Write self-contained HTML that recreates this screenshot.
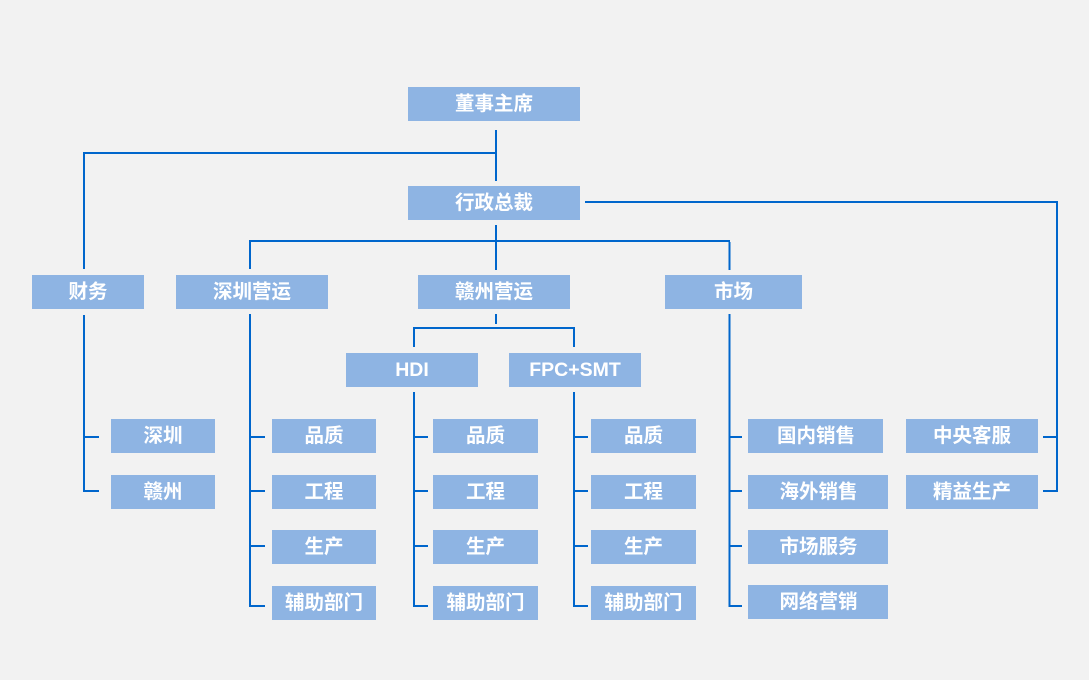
<!DOCTYPE html>
<html>
<head>
<meta charset="utf-8">
<style>
  html,body{margin:0;padding:0;background:#f2f2f2;}
  svg{display:block;}
  text{font-family:"Liberation Sans","Noto Sans CJK SC","WenQuanYi Zen Hei",sans-serif;font-weight:bold;font-size:19.5px;fill:#ffffff;text-anchor:middle;dominant-baseline:central;}
</style>
</head>
<body>
<svg width="1089" height="680" viewBox="0 0 1089 680" xmlns="http://www.w3.org/2000/svg">
  <rect x="0" y="0" width="1089" height="680" fill="#f2f2f2"/>
  <g stroke="#0066cc" stroke-width="2" fill="none">
    <!-- top -->
    <path d="M496,130 V181"/>
    <path d="M84,153 H496"/>
    <path d="M84,152 V269"/>
    <path d="M496,225 V270"/>
    <path d="M250,241 H730"/>
    <path d="M250,240 V269"/>
    <path d="M729.5,242 V270"/>
    <path d="M585,202 H1057"/>
    <path d="M1057,201 V492"/>
    <path d="M1043,437 H1057"/>
    <path d="M1043,491 H1057"/>
    <!-- 财务 -->
    <path d="M84,315 V492"/>
    <path d="M83,437 H99"/>
    <path d="M83,491 H99"/>
    <!-- 深圳营运 -->
    <path d="M250,314 V607"/>
    <path d="M249,437 H265"/>
    <path d="M249,491 H265"/>
    <path d="M249,546 H265"/>
    <path d="M249,606 H265"/>
    <!-- 赣州营运 -->
    <path d="M496,314 V324"/>
    <path d="M414,328 H574"/>
    <path d="M414,327 V347"/>
    <path d="M574,327 V347"/>
    <!-- HDI -->
    <path d="M414,392 V607"/>
    <path d="M413,437 H428"/>
    <path d="M413,491 H428"/>
    <path d="M413,546 H428"/>
    <path d="M413,606 H428"/>
    <!-- FPC -->
    <path d="M574,392 V607"/>
    <path d="M573,437 H588"/>
    <path d="M573,491 H588"/>
    <path d="M573,546 H588"/>
    <path d="M573,606 H588"/>
    <!-- 市场 -->
    <path d="M729.5,314 V607"/>
    <path d="M728.5,437 H742"/>
    <path d="M728.5,491 H742"/>
    <path d="M728.5,546 H742"/>
    <path d="M728.5,606 H742"/>
  </g>
  <g fill="#8eb4e3">
    <rect x="408" y="87" width="172" height="34"/>
    <rect x="408" y="186" width="172" height="34"/>
    <rect x="32" y="275" width="112" height="34"/>
    <rect x="176" y="275" width="152" height="34"/>
    <rect x="418" y="275" width="152" height="34"/>
    <rect x="665" y="275" width="137" height="34"/>
    <rect x="346" y="353" width="132" height="34"/>
    <rect x="509" y="353" width="132" height="34"/>
    <rect x="111" y="419" width="104" height="34"/>
    <rect x="111" y="475" width="104" height="34"/>
    <rect x="272" y="419" width="104" height="34"/>
    <rect x="272" y="475" width="104" height="34"/>
    <rect x="272" y="530" width="104" height="34"/>
    <rect x="272" y="586" width="104" height="34"/>
    <rect x="433" y="419" width="105" height="34"/>
    <rect x="433" y="475" width="105" height="34"/>
    <rect x="433" y="530" width="105" height="34"/>
    <rect x="433" y="586" width="105" height="34"/>
    <rect x="591" y="419" width="105" height="34"/>
    <rect x="591" y="475" width="105" height="34"/>
    <rect x="591" y="530" width="105" height="34"/>
    <rect x="591" y="586" width="105" height="34"/>
    <rect x="748" y="419" width="135" height="34"/>
    <rect x="748" y="475" width="140" height="34"/>
    <rect x="748" y="530" width="140" height="34"/>
    <rect x="748" y="585" width="140" height="34"/>
    <rect x="906" y="419" width="132" height="34"/>
    <rect x="906" y="475" width="132" height="34"/>
  </g>
  <g>
    <text x="494" y="104">董事主席</text>
    <text x="494" y="203">行政总裁</text>
    <text x="88" y="292">财务</text>
    <text x="252" y="292">深圳营运</text>
    <text x="494" y="292">赣州营运</text>
    <text x="733.5" y="292">市场</text>
    <text x="412" y="370">HDI</text>
    <text x="575" y="370">FPC+SMT</text>
    <text x="163" y="436">深圳</text>
    <text x="163" y="492">赣州</text>
    <text x="324" y="436">品质</text>
    <text x="324" y="492">工程</text>
    <text x="324" y="547">生产</text>
    <text x="324" y="603">辅助部门</text>
    <text x="485.5" y="436">品质</text>
    <text x="485.5" y="492">工程</text>
    <text x="485.5" y="547">生产</text>
    <text x="485.5" y="603">辅助部门</text>
    <text x="643.5" y="436">品质</text>
    <text x="643.5" y="492">工程</text>
    <text x="643.5" y="547">生产</text>
    <text x="643.5" y="603">辅助部门</text>
    <text x="816" y="436">国内销售</text>
    <text x="818.5" y="492">海外销售</text>
    <text x="818.5" y="547">市场服务</text>
    <text x="818.5" y="602">网络营销</text>
    <text x="972" y="436">中央客服</text>
    <text x="972" y="492">精益生产</text>
  </g>
</svg>
</body>
</html>
